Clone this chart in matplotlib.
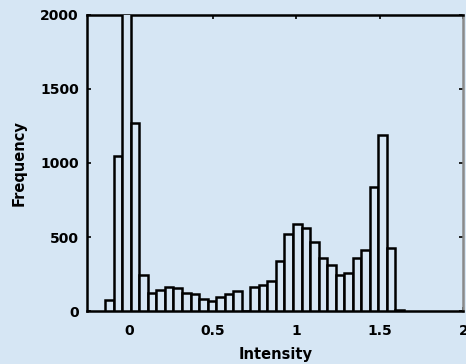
import numpy as np
import matplotlib
matplotlib.use("Agg")
import matplotlib.pyplot as plt

# histogram: 35 equal bins between the data min and max
bin_lo = -0.143
bin_hi = 1.645
counts = [74, 1047, 2900, 1272, 243, 124, 142, 164, 153, 124,
          113, 81, 68, 93, 115, 135, 0, 160, 176, 205,
          340, 520, 587, 561, 463, 355, 314, 243, 260, 355,
          410, 840, 1189, 423, 10]
x_ticks = [0, 0.5, 1, 1.5, 2]
x_tick_labels = ["0", "0.5", "1", "1.5", "2"]
y_ticks = [0, 500, 1000, 1500, 2000]
y_tick_labels = ["0", "500", "1000", "1500", "2000"]

bg = "#d6e6f4"
edges = np.linspace(bin_lo, bin_hi, len(counts) + 1)
centers = (edges[:-1] + edges[1:]) / 2
width = edges[1] - edges[0]

fig = plt.figure(figsize=(4.66, 3.64), dpi=100, facecolor=bg)
ax = fig.add_axes([0.1873, 0.1456, 0.8069, 0.8132], facecolor=bg)

ax.bar(centers, counts, width=width, facecolor=bg, edgecolor="black",
       linewidth=1.8, zorder=3)

ax.set_xlim(-0.25, 2)
ax.set_ylim(0, 2000)
ax.set_xticks(x_ticks)
ax.set_xticklabels(x_tick_labels)
ax.set_yticks(y_ticks)
ax.set_yticklabels(y_tick_labels)

ax.tick_params(direction="in", length=3, width=1.2, top=True, right=True,
               labelsize=10, pad=6)
ax.tick_params(axis="x", pad=9)
for lab in ax.get_xticklabels() + ax.get_yticklabels():
    lab.set_fontweight("bold")

for side in ["left", "bottom", "top"]:
    ax.spines[side].set_linewidth(1.8)
ax.spines["right"].set_linewidth(1.8)
ax.spines["right"].set_color("#8a8a8a")

ax.set_xlabel("Intensity", fontsize=10.5, fontweight="bold", labelpad=7)
ax.set_ylabel("Frequency", fontsize=10.5, fontweight="bold", labelpad=10)

fig.savefig("out.png", dpi=100, facecolor=bg)
